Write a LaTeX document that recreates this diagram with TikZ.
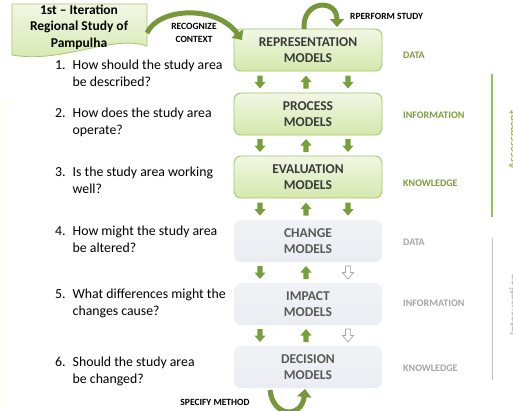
\documentclass[tikz,border=0pt]{standalone}
\usepackage{fontspec}
\setmainfont{Carlito}
\usetikzlibrary{arrows.meta,calc}
\definecolor{arrgreen}{HTML}{77A03A}
\definecolor{curvgreen}{HTML}{76973A}
\definecolor{boxtop}{HTML}{F1F7E4}
\definecolor{boxbot}{HTML}{D4E8AC}
\definecolor{boxline}{HTML}{A7C56C}
\definecolor{greytop}{HTML}{F0F2F5}
\definecolor{greybot}{HTML}{EAEDF2}
\definecolor{darktext}{HTML}{3A3A3A}
\definecolor{midgrey}{HTML}{595959}
\definecolor{lightgrey}{HTML}{A6A6A6}
\definecolor{labgreen}{HTML}{7E9C3E}
\definecolor{linegreen}{HTML}{93C255}
\definecolor{linegrey}{HTML}{BFBFBF}
\begin{document}
\begin{tikzpicture}[x=1pt,y=-1pt,
  greenbox/.style={draw=boxline, line width=0.9pt, rounded corners=7pt, top color=boxtop, bottom color=boxbot,
    minimum width=148pt, minimum height=42pt, align=center, text=darktext,
    font=\fontsize{13.5}{16}\selectfont\bfseries, inner sep=0pt},
  greybox/.style={rounded corners=7pt, top color=greytop, bottom color=greybot,
    minimum width=148pt, minimum height=42pt, align=center, text=midgrey,
    font=\fontsize{13.5}{16}\selectfont\bfseries, inner sep=0pt},
  sidelab/.style={anchor=west, font=\fontsize{10}{12}\selectfont\bfseries, inner sep=0pt},
  actlab/.style={font=\fontsize{9.5}{12.5}\selectfont\bfseries, align=center, inner sep=0pt},
  question/.style={anchor=base west, font=\fontsize{13.8}{17}\selectfont, inner sep=0pt, text=black},
  curvarrow/.style={curvgreen, line width=5pt, -{Triangle[length=8pt,width=14pt]}},
  dnarr/.pic={\fill[pic actions] (-2.6,-6.5) -- (2.6,-6.5) -- (2.6,0) -- (5.6,0) -- (0,6.5) -- (-5.6,0) -- (-2.6,0) -- cycle;},
  uparr/.pic={\fill[pic actions] (-2.6,6.5) -- (2.6,6.5) -- (2.6,0) -- (5.6,0) -- (0,-6.5) -- (-5.6,0) -- (-2.6,0) -- cycle;},
  dnopen/.pic={\draw[lightgrey, line width=0.7pt, fill=white] (-2.6,-6.5) -- (2.6,-6.5) -- (2.6,0) -- (5.6,0) -- (0,6.5) -- (-5.6,0) -- (-2.6,0) -- cycle;}
]
\useasboundingbox (0,0) rectangle (513,410);
\fill[white] (0,0) rectangle (513,410);
\fill[color=yellow!3!white] (0,100) rectangle (9,410);

% title banner
\shade[top color=boxtop, bottom color=boxbot, draw=boxline, line width=0.8pt]
  (12,4) -- (147,4) -- (147,46) .. controls (112,34) and (62,64) .. (12,55) -- cycle;
\node[font=\fontsize{13.5}{16.5}\selectfont\bfseries, align=center, inner sep=0pt] (title) at (79,27)
  {1st -- Iteration\\Regional Study of\\Pampulha};

% model boxes
\node[greenbox] (rep) at (308,50) {REPRESENTATION\\MODELS};
\node[greenbox] (proc) at (308,114) {PROCESS\\MODELS};
\node[greenbox] (eval) at (308,177) {EVALUATION\\MODELS};
\node[greybox] (chg) at (308,241) {CHANGE\\MODELS};
\node[greybox] (imp) at (308,304) {IMPACT\\MODELS};
\node[greybox] (dec) at (308,367) {DECISION\\MODELS};

% block arrows between boxes
\foreach \a/\b/\last in {rep/proc/g, proc/eval/g, eval/chg/g, chg/imp/o, imp/dec/o}{
  \coordinate (m) at ($(\a.south)!0.5!(\b.north)$);
  \pic[fill=arrgreen] at ($(m)+(-48,0)$) {dnarr};
  \pic[fill=arrgreen] at ($(m)+(-2,0)$) {uparr};
  \if\last g
    \pic[fill=arrgreen] at ($(m)+(40,0)$) {dnarr};
  \else
    \pic at ($(m)+(40,0)$) {dnopen};
  \fi
}

% side labels
\node[sidelab, text=labgreen] (l1) at (403,55) {DATA};
\node[sidelab, text=labgreen] (l2) at (403,115) {INFORMATION};
\node[sidelab, text=labgreen] (l3) at (403,183) {KNOWLEDGE};
\node[sidelab, text=lightgrey] (l4) at (403,242) {DATA};
\node[sidelab, text=lightgrey] (l5) at (403,303) {INFORMATION};
\node[sidelab, text=lightgrey] (l6) at (403,368) {KNOWLEDGE};

% right lines and cut-off labels
\draw[linegreen, line width=1.4pt] (492,74) -- (492,217);
\draw[linegrey, line width=1pt] (492,238) -- (492,380);
\node[rotate=90, anchor=north, inner sep=0pt, font=\fontsize{12}{14}\selectfont\bfseries, text=linegreen] (assess) at (509,140) {Assessment};
\node[rotate=90, anchor=north, inner sep=0pt, font=\fontsize{12}{14}\selectfont\bfseries, text=linegrey] (interv) at (509,305) {Intervention};

% questions
\node[question] (q1) at (55,69) {\begin{tabular}[t]{@{}l@{\hspace{7pt}}l@{}}1.&How should the study area\\&be described?\end{tabular}};
\node[question] (q2) at (55,117) {\begin{tabular}[t]{@{}l@{\hspace{7pt}}l@{}}2.&How does the study area\\&operate?\end{tabular}};
\node[question] (q3) at (55,176) {\begin{tabular}[t]{@{}l@{\hspace{7pt}}l@{}}3.&Is the study area working\\&well?\end{tabular}};
\node[question] (q4) at (55,235) {\begin{tabular}[t]{@{}l@{\hspace{7pt}}l@{}}4.&How might the study area\\&be altered?\end{tabular}};
\node[question] (q5) at (55,298) {\begin{tabular}[t]{@{}l@{\hspace{7pt}}l@{}}5.&What differences might the\\&changes cause?\end{tabular}};
\node[question] (q6) at (55,366) {\begin{tabular}[t]{@{}l@{\hspace{7pt}}l@{}}6.&Should the study area\\&be changed?\end{tabular}};

% action labels
\node[actlab] (recog) at (194,33) {RECOGNIZE\\CONTEXT};
\node[actlab, anchor=west] (perf) at (350,16) {RPERFORM STUDY};
\node[actlab] (spec) at (215,402) {SPECIFY METHOD};

% curved arrows
\coordinate (c1s) at (147,33);
\coordinate (c1e) at (242,40);
\draw[curvarrow] (c1s) .. controls (158,8) and (216,4) .. (c1e);
\coordinate (c2s) at (304,29);
\coordinate (c2e) at (337,27);
\draw[curvarrow] (c2s) .. controls (302,0) and (337,-2) .. (c2e);
\coordinate (c3s) at (270,390);
\coordinate (c3e) at (305,389);
\draw[curvarrow] (c3s) .. controls (273,418) and (302,418) .. (c3e);
\end{tikzpicture}
\end{document}
